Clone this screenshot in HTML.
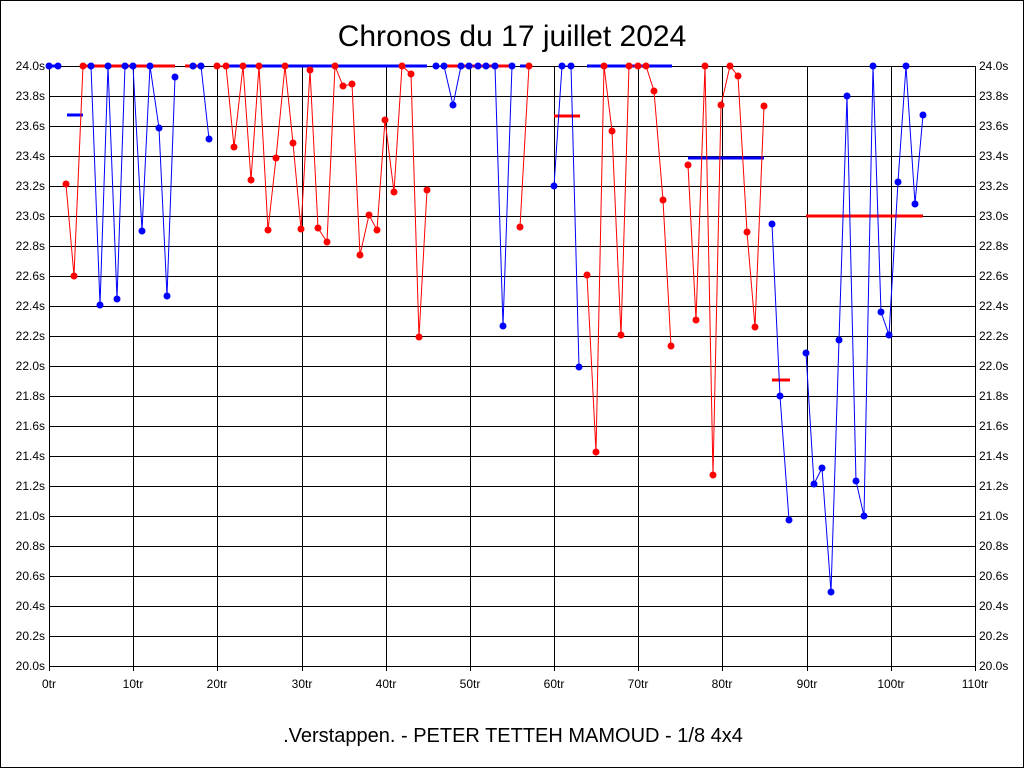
<!DOCTYPE html>
<html><head><style>body{margin:0;background:#fff}svg{display:block}</style></head><body>
<svg width="1024" height="768" xmlns="http://www.w3.org/2000/svg" font-family="Liberation Sans, sans-serif">
<defs>
<marker id="mb" markerUnits="userSpaceOnUse" markerWidth="8" markerHeight="8" refX="4" refY="4"><circle cx="4" cy="4" r="3.5" fill="#0000ff"/></marker>
<marker id="mr" markerUnits="userSpaceOnUse" markerWidth="8" markerHeight="8" refX="4" refY="4"><circle cx="4" cy="4" r="3.5" fill="#ff0000"/></marker>
</defs>
<rect x="0.5" y="0.5" width="1023" height="767" fill="#fff" stroke="#000"/>
<text x="512" y="46" font-size="30" text-anchor="middle">Chronos du 17 juillet 2024</text>
<text x="513" y="742" font-size="20" text-anchor="middle">.Verstappen. - PETER TETTEH MAMOUD - 1/8 4x4</text>
<g stroke="#000" stroke-width="1">
<line x1="49" x2="975" y1="66.5" y2="66.5"/><line x1="49" x2="975" y1="96.5" y2="96.5"/><line x1="49" x2="975" y1="126.5" y2="126.5"/><line x1="49" x2="975" y1="156.5" y2="156.5"/><line x1="49" x2="975" y1="186.5" y2="186.5"/><line x1="49" x2="975" y1="216.5" y2="216.5"/><line x1="49" x2="975" y1="246.5" y2="246.5"/><line x1="49" x2="975" y1="276.5" y2="276.5"/><line x1="49" x2="975" y1="306.5" y2="306.5"/><line x1="49" x2="975" y1="336.5" y2="336.5"/><line x1="49" x2="975" y1="366.5" y2="366.5"/><line x1="49" x2="975" y1="396.5" y2="396.5"/><line x1="49" x2="975" y1="426.5" y2="426.5"/><line x1="49" x2="975" y1="456.5" y2="456.5"/><line x1="49" x2="975" y1="486.5" y2="486.5"/><line x1="49" x2="975" y1="516.5" y2="516.5"/><line x1="49" x2="975" y1="546.5" y2="546.5"/><line x1="49" x2="975" y1="576.5" y2="576.5"/><line x1="49" x2="975" y1="606.5" y2="606.5"/><line x1="49" x2="975" y1="636.5" y2="636.5"/><line x1="49" x2="975" y1="666.5" y2="666.5"/>
<line x1="49.5" x2="49.5" y1="66" y2="671"/><line x1="133.5" x2="133.5" y1="66" y2="671"/><line x1="217.5" x2="217.5" y1="66" y2="671"/><line x1="302.5" x2="302.5" y1="66" y2="671"/><line x1="386.5" x2="386.5" y1="66" y2="671"/><line x1="470.5" x2="470.5" y1="66" y2="671"/><line x1="554.5" x2="554.5" y1="66" y2="671"/><line x1="638.5" x2="638.5" y1="66" y2="671"/><line x1="722.5" x2="722.5" y1="66" y2="671"/><line x1="807.5" x2="807.5" y1="66" y2="671"/><line x1="891.5" x2="891.5" y1="66" y2="671"/><line x1="975.5" x2="975.5" y1="66" y2="671"/>
</g>
<g font-size="12" text-anchor="end">
<text x="45" y="70">24.0s</text><text x="45" y="100">23.8s</text><text x="45" y="130">23.6s</text><text x="45" y="160">23.4s</text><text x="45" y="190">23.2s</text><text x="45" y="220">23.0s</text><text x="45" y="250">22.8s</text><text x="45" y="280">22.6s</text><text x="45" y="310">22.4s</text><text x="45" y="340">22.2s</text><text x="45" y="370">22.0s</text><text x="45" y="400">21.8s</text><text x="45" y="430">21.6s</text><text x="45" y="460">21.4s</text><text x="45" y="490">21.2s</text><text x="45" y="520">21.0s</text><text x="45" y="550">20.8s</text><text x="45" y="580">20.6s</text><text x="45" y="610">20.4s</text><text x="45" y="640">20.2s</text><text x="45" y="670">20.0s</text>
</g>
<g font-size="12">
<text x="979" y="70">24.0s</text><text x="979" y="100">23.8s</text><text x="979" y="130">23.6s</text><text x="979" y="160">23.4s</text><text x="979" y="190">23.2s</text><text x="979" y="220">23.0s</text><text x="979" y="250">22.8s</text><text x="979" y="280">22.6s</text><text x="979" y="310">22.4s</text><text x="979" y="340">22.2s</text><text x="979" y="370">22.0s</text><text x="979" y="400">21.8s</text><text x="979" y="430">21.6s</text><text x="979" y="460">21.4s</text><text x="979" y="490">21.2s</text><text x="979" y="520">21.0s</text><text x="979" y="550">20.8s</text><text x="979" y="580">20.6s</text><text x="979" y="610">20.4s</text><text x="979" y="640">20.2s</text><text x="979" y="670">20.0s</text>
</g>
<g font-size="12" text-anchor="middle">
<text x="49" y="688">0tr</text><text x="133" y="688">10tr</text><text x="217" y="688">20tr</text><text x="302" y="688">30tr</text><text x="386" y="688">40tr</text><text x="470" y="688">50tr</text><text x="554" y="688">60tr</text><text x="638" y="688">70tr</text><text x="722" y="688">80tr</text><text x="807" y="688">90tr</text><text x="891" y="688">100tr</text><text x="975" y="688">110tr</text>
</g>
<g stroke-width="3">
<line x1="49" x2="58" y1="66" y2="66" stroke="#0000ff"/>
<line x1="67" x2="83" y1="115" y2="115" stroke="#0000ff"/>
<line x1="83" x2="175" y1="66" y2="66" stroke="#ff0000"/>
<line x1="185" x2="200" y1="66" y2="66" stroke="#ff0000"/>
<line x1="227" x2="427" y1="66" y2="66" stroke="#0000ff"/>
<line x1="444" x2="512" y1="66" y2="66" stroke="#ff0000"/>
<line x1="520" x2="529" y1="66" y2="66" stroke="#0000ff"/>
<line x1="554" x2="580" y1="116" y2="116" stroke="#ff0000"/>
<line x1="587" x2="672" y1="66" y2="66" stroke="#0000ff"/>
<line x1="688" x2="764" y1="158" y2="158" stroke="#0000ff"/>
<line x1="772" x2="790" y1="380" y2="380" stroke="#ff0000"/>
<line x1="806" x2="923" y1="216" y2="216" stroke="#ff0000"/>
</g>
<g fill="none" stroke-width="1">
<polyline stroke="#0000ff" marker-start="url(#mb)" marker-mid="url(#mb)" marker-end="url(#mb)" points="49,66 58,66"/>
<polyline stroke="#ff0000" marker-start="url(#mr)" marker-mid="url(#mr)" marker-end="url(#mr)" points="66,184 74,276 83,66"/>
<polyline stroke="#0000ff" marker-start="url(#mb)" marker-mid="url(#mb)" marker-end="url(#mb)" points="91,66 100,305 108,66 117,299 125,66 133,66 142,231 150,66 159,128 167,296 175,77"/>
<polyline stroke="#0000ff" marker-start="url(#mb)" marker-mid="url(#mb)" marker-end="url(#mb)" points="193,66 201,66 209,139"/>
<polyline stroke="#ff0000" marker-start="url(#mr)" marker-mid="url(#mr)" marker-end="url(#mr)" points="217,66 226,66 234,147 243,66 251,180 259,66 268,230 276,158 285,66 293,143 301,229 310,70 318,228 327,242 335,66 343,86 352,84 360,255 369,215 377,230 385,120 394,192 402,66 411,74 419,337 427,190"/>
<polyline stroke="#0000ff" marker-start="url(#mb)" marker-mid="url(#mb)" marker-end="url(#mb)" points="436,66 444,66 453,105 461,66 469,66 478,66 486,66 495,66 503,326 512,66"/>
<polyline stroke="#ff0000" marker-start="url(#mr)" marker-mid="url(#mr)" marker-end="url(#mr)" points="520,227 529,66"/>
<polyline stroke="#0000ff" marker-start="url(#mb)" marker-mid="url(#mb)" marker-end="url(#mb)" points="554,186 562,66 571,66 579,367"/>
<polyline stroke="#ff0000" marker-start="url(#mr)" marker-mid="url(#mr)" marker-end="url(#mr)" points="587,275 596,452 604,66 612,131 621,335 629,66 638,66 646,66 654,91 663,200 671,346"/>
<polyline stroke="#ff0000" marker-start="url(#mr)" marker-mid="url(#mr)" marker-end="url(#mr)" points="688,165 696,320 705,66 713,475 721,105 730,66 738,76 747,232 755,327 764,106"/>
<polyline stroke="#0000ff" marker-start="url(#mb)" marker-mid="url(#mb)" marker-end="url(#mb)" points="772,224 780,396 789,520"/>
<polyline stroke="#0000ff" marker-start="url(#mb)" marker-mid="url(#mb)" marker-end="url(#mb)" points="806,353 814,484 822,468 831,592 839,340 847,96 856,481 864,516 873,66 881,312 889,335 898,182 906,66 915,204 923,115"/>
</g>
</svg>
</body></html>
